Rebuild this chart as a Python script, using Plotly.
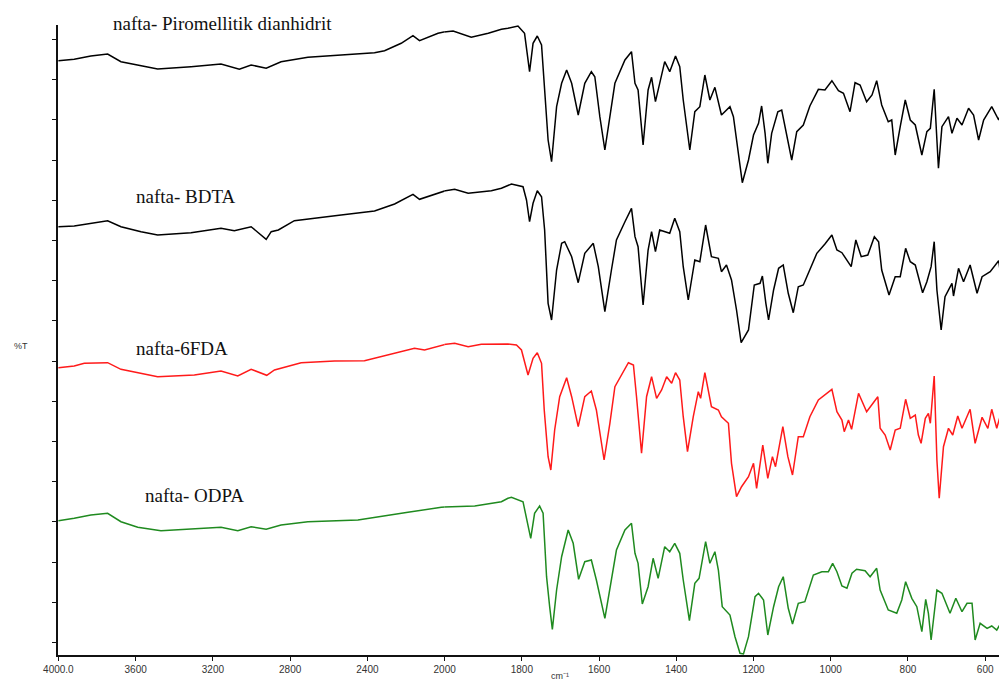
import plotly.graph_objects as go

# Wavenumbers (cm-1) and transmittance (arbitrary offset %T units)
wn_pmda = [4000, 3918, 3832, 3745, 3676, 3589, 3486, 3313, 3158, 3063, 3002, 2924, 2847, 2708, 2536, 2363, 2311, 2225, 2164, 2130, 2034,
           1978, 1931, 1887, 1853, 1836, 1810, 1793, 1780, 1771, 1760, 1749, 1742, 1732, 1723, 1710, 1697, 1684, 1671, 1654, 1637,
           1620, 1611, 1598, 1585, 1572, 1559, 1533, 1516, 1507, 1499, 1486, 1473, 1464, 1454, 1443, 1430, 1417, 1402, 1391, 1382,
           1365, 1352, 1339, 1326, 1313, 1300, 1283, 1261, 1252, 1244, 1229, 1213, 1200, 1187, 1179, 1170, 1163, 1153, 1137, 1127,
           1114, 1101, 1088, 1071, 1054, 1032, 1015, 997, 980, 967, 950, 937, 924, 907, 893, 881, 868, 851, 842, 833, 820, 807,
           794, 781, 764, 751, 742, 732, 725, 721, 712, 695, 686, 673, 660, 643, 630, 617, 604, 583, 565, 559]
t_pmda = [594.3, 595.7, 599, 601, 593.3, 590, 586, 588.3, 591, 585.7, 590, 586.7, 593.3, 597.7, 600, 602.3, 604.3, 611.7, 619.3, 614.3, 621.7,
          624, 617.7, 621.7, 625.7, 626.7, 629, 621.7, 583.3, 611.7, 619, 610, 572, 515, 493.3, 548.3, 571.7, 585, 571.7, 540, 571.7,
          583.3, 578.3, 538.3, 505, 538.3, 571.7, 595, 603.3, 571.7, 565, 510, 565, 577.7, 553.3, 571.7, 593.3, 583.3, 599, 588.3, 555,
          505, 543.3, 548.3, 580, 555, 567.7, 540, 548.3, 538.3, 515, 472.3, 495, 520, 531.7, 549, 521.7, 491.7, 521.7, 543.3, 545,
          521.7, 495, 523.3, 530, 549, 565.7, 565, 574.3, 564.3, 561.7, 543.3, 572.3, 570, 553.3, 560, 574.3, 550, 533.3, 535, 500, 528.3, 555,
          535, 530, 500, 523.3, 526.7, 565.7, 515, 486.7, 528.3, 538.3, 521.7, 536.7, 530, 546.7, 540, 515, 535, 548.3, 535, 541.7]

wn_bdta = [4000, 3918, 3745, 3676, 3572, 3486, 3313, 3158, 3089, 3002, 2924, 2898, 2861, 2778, 2536, 2363, 2259, 2164, 2130, 2034,
           1974, 1939, 1879, 1853, 1827, 1797, 1788, 1780, 1771, 1760, 1749, 1741, 1732, 1723, 1710, 1697, 1689, 1671, 1654, 1637,
           1615, 1602, 1585, 1568, 1555, 1533, 1516, 1507, 1499, 1486, 1473, 1464, 1454, 1443, 1430, 1417, 1404, 1391, 1382, 1369,
           1352, 1339, 1324, 1309, 1291, 1283, 1270, 1257, 1244, 1232, 1213, 1198, 1183, 1177, 1168, 1161, 1148, 1135, 1123, 1110,
           1097, 1084, 1071, 1054, 1036, 1015, 997, 984, 971, 947, 935, 921, 904, 887, 876, 868, 849, 833, 820, 806, 794, 781, 762,
           751, 740, 732, 725, 714, 704, 686, 682, 669, 656, 639, 621, 608, 587, 565, 559]
t_bdta = [428.3, 429, 434.3, 428.3, 423.3, 420, 422.3, 426.7, 424.3, 428.3, 415.7, 423.3, 425, 434.3, 440, 444, 451, 460.7, 455.7, 462.3,
          465.7, 461.7, 464.3, 466.7, 471, 468.3, 455, 433.3, 451.7, 464.3, 458.3, 425, 351.7, 335, 385, 411.7, 413.3, 398.3, 372.3, 401.7,
          411.7, 388.3, 343.3, 385, 415, 433.3, 446.7, 418.3, 408.3, 350, 405, 423.3, 403.3, 425, 423.3, 421.7, 436.7, 423.3, 388.3, 355,
          395, 393.3, 430, 398.3, 396.7, 383.3, 390, 375, 345, 312.3, 325, 370, 371.7, 379, 351.7, 335, 365, 386.7, 390, 361.7,
          342.3, 368.3, 370, 385, 401.7, 411, 420, 405, 402.3, 388.3, 415, 398.3, 400, 418.3, 413.3, 385, 360, 378.3, 378.3, 406.7, 393.3, 390, 362.3,
          373.3, 388.3, 413.3, 365, 325, 358.3, 371.7, 359, 386.7, 373.3, 390, 361.7, 378.3, 383.3, 394.3, 378.3]

wn_6fda = [4000, 3918, 3866, 3745, 3676, 3589, 3486, 3296, 3158, 3071, 3002, 2921, 2881, 2743, 2570, 2415, 2293, 2156, 2104, 2017,
           1974, 1939, 1905, 1853, 1836, 1814, 1801, 1784, 1771, 1760, 1749, 1742, 1732, 1725, 1715, 1702, 1684, 1671, 1654, 1637,
           1620, 1607, 1587, 1572, 1559, 1524, 1511, 1503, 1490, 1477, 1464, 1451, 1438, 1425, 1412, 1402, 1391, 1382, 1371, 1356,
           1343, 1337, 1326, 1309, 1291, 1283, 1265, 1257, 1244, 1231, 1213, 1200, 1192, 1176, 1163, 1151, 1143, 1124, 1111, 1099,
           1084, 1071, 1054, 1032, 1015, 997, 984, 971, 965, 954, 946, 928, 907, 878, 872, 859, 846, 833, 820, 806, 794, 781, 773,
           766, 755, 747, 742, 732, 725, 719, 708, 695, 684, 671, 660, 639, 626, 608, 593, 583, 570, 559]
t_6fda = [287.3, 289, 291.7, 292.3, 285.7, 282.3, 278.3, 280, 284, 279, 285.7, 279.7, 285, 292.3, 294, 294.3, 300, 306.7, 305, 310,
          311.7, 308.3, 310.7, 311, 311, 310, 305, 280, 296.7, 302.3, 291.7, 245, 198.3, 185, 225, 258.3, 277.3, 258.3, 228.3, 258.3,
          264, 245, 195, 231.7, 268.3, 292.3, 290, 258.3, 201.7, 258.3, 278.3, 256.7, 265, 278.3, 271.7, 282.3, 275, 238.3, 203.3, 238.3,
          263.3, 256.7, 282.3, 248.3, 245, 238.3, 231.7, 191.7, 158.3, 168.3, 178.3, 191.7, 166.7, 210, 176.7, 198.3, 188.3, 228.3, 198.3, 180,
          218.3, 218.3, 238.3, 255, 260, 265.7, 243.3, 235, 223.3, 235, 225.7, 261.7, 243.3, 258.3, 226.7, 220, 205, 225, 226.7, 255.7, 236.7, 240, 220,
          211.7, 236.7, 241.7, 231.7, 279, 195, 156.7, 208.3, 226.7, 220, 239, 226.7, 245.7, 211.7, 237.7, 226.7, 245.7, 226.7, 241.7]

wn_odpa = [4000, 3918, 3832, 3745, 3676, 3589, 3469, 3296, 3158, 3071, 3002, 2924, 2847, 2708, 2449, 2190, 2017,
           1922, 1853, 1836, 1827, 1797, 1788, 1777, 1767, 1754, 1745, 1736, 1728, 1721, 1710, 1697, 1680, 1667, 1653, 1637,
           1620, 1607, 1585, 1572, 1555, 1533, 1516, 1507, 1499, 1488, 1473, 1460, 1447, 1430, 1417, 1404, 1391, 1382, 1366,
           1352, 1341, 1324, 1313, 1300, 1291, 1281, 1261, 1248, 1235, 1226, 1213, 1196, 1187, 1174, 1163, 1148, 1135, 1123, 1110,
           1099, 1084, 1067, 1045, 1023, 1006, 995, 984, 971, 958, 945, 933, 911, 898, 881, 872, 851, 829, 816, 806, 790, 777,
           764, 754, 747, 740, 725, 712, 691, 676, 660, 647, 634, 626, 613, 595, 583, 570, 559]
t_odpa = [134.3, 136.7, 140, 141.7, 133.3, 127.7, 124.3, 126, 127.7, 124.3, 128.3, 125.7, 130, 133.3, 135, 142.7, 147.7,
          149, 153.3, 156.7, 157.7, 153.3, 138.3, 116.7, 141.7, 149, 141.7, 78.3, 48.3, 25.7, 65, 98.3, 125, 111.7, 75.7, 93.3,
          95, 75, 36.7, 65, 105, 125, 131.7, 101.7, 91.7, 51, 68.3, 96.7, 76.7, 108.3, 103.3, 111.7, 101.7, 75, 34.3,
          71.7, 76.7, 113.3, 91.7, 103.3, 85, 48.3, 40, 18.3, 1.7, 1, 18.3, 58.3, 61.7, 55, 20, 48.3, 68.3, 78.3, 46.7,
          31, 51.7, 53.3, 80, 83.3, 83.3, 91.7, 83.3, 69, 66.7, 81.7, 85.7, 84.3, 78.3, 86.7, 65, 45, 41.7, 55, 73.3, 56.7, 48.3,
          23.3, 55.7, 41.7, 15, 65, 61.7, 41.7, 56.7, 43.3, 51.7, 51.7, 15, 31.7, 26.7, 29, 25, 32.3]

labels = ["nafta- Piromellitik dianhidrit", "nafta- BDTA", "nafta-6FDA", "nafta- ODPA"]
colors = ["#000000", "#000000", "#ff1a1a", "#1f8a1f"]
label_pos = [(0.0563, 1.003), (0.0807, 0.7275), (0.081, 0.4868), (0.0899, 0.2529)]

ticks_hi = [4000, 3600, 3200, 2800, 2400, 2000]
ticktext_hi = ["4000.0", "3600", "3200", "2800", "2400", "2000"]
ticks_lo = [1800, 1600, 1400, 1200, 1000, 800, 600]
ticktext_lo = ["1800", "1600", "1400", "1200", "1000", "800", "600"]

series = [(wn_pmda, t_pmda), (wn_bdta, t_bdta), (wn_6fda, t_6fda), (wn_odpa, t_odpa)]

fig = go.Figure()
for (wn, t), c in zip(series, colors):
    for xa in ("x", "x2"):
        fig.add_trace(go.Scatter(x=wn, y=t, mode="lines", xaxis=xa, yaxis="y",
                                 line=dict(color=c, width=1.5), showlegend=False, hoverinfo="skip"))

split = 0.41
axis_style = dict(showline=True, linecolor="#111", linewidth=1.6, ticks="outside", ticklen=4,
                  tickwidth=1.4, tickcolor="#111", showgrid=False, zeroline=False,
                  tickfont=dict(family="Liberation Sans", size=10, color="#333"))

fig.update_layout(
    width=1013, height=684,
    margin=dict(l=58, r=0, t=25, b=29),
    paper_bgcolor="white", plot_bgcolor="white",
    xaxis=dict(domain=[0, split], range=[4002, 2000], anchor="y", tickmode="array",
               tickvals=ticks_hi, ticktext=ticktext_hi, **axis_style),
    xaxis2=dict(domain=[split, 1], range=[2000, 559], anchor="y", tickmode="array",
                tickvals=ticks_lo, ticktext=ticktext_lo, **axis_style),
    yaxis=dict(domain=[0, 1], range=[0, 630], anchor="x", tickmode="linear", tick0=12.5, dtick=40.2,
               showticklabels=False, **{k: v for k, v in axis_style.items() if k != "tickfont"}),
)

for txt, (px, py) in zip(labels, label_pos):
    fig.add_annotation(text=txt, x=px, y=py, xref="paper", yref="paper", xanchor="left", yanchor="middle",
                       showarrow=False, font=dict(family="Liberation Serif", size=19, color="#111"))

fig.add_annotation(text="%T", x=-0.0393, y=0.4905, xref="paper", yref="paper", showarrow=False,
                   xanchor="center", yanchor="middle", font=dict(family="Liberation Sans", size=9, color="#333"))
fig.add_annotation(text="cm⁻¹", x=(558 - 57) / 942, y=-0.033, xref="paper", yref="paper", showarrow=False,
                   xanchor="center", yanchor="middle", font=dict(family="Liberation Sans", size=9, color="#333"))

# remove the default page margin so the figure starts at the window's corner
fig.write_html("out.html", config={"displayModeBar": False},
               post_script="document.body.style.margin='0px';document.body.style.overflow='hidden';")
